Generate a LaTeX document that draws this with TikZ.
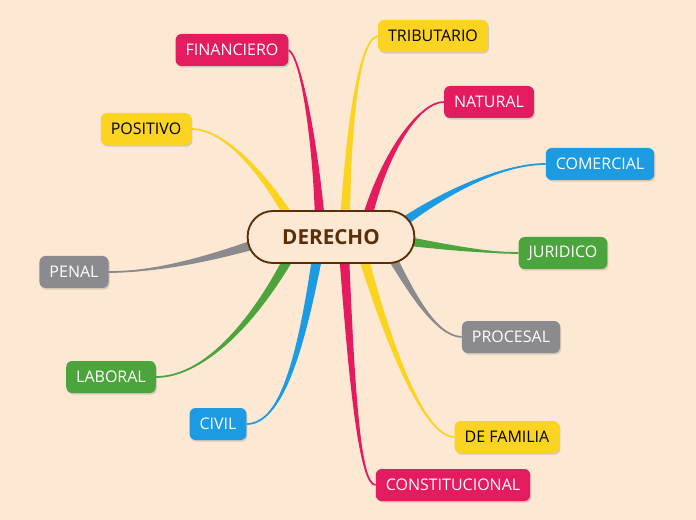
\documentclass[tikz,border=0pt]{standalone}
\usepackage{fontspec}
\setmainfont{Open Sans}
\usepackage{tikz}
\usetikzlibrary{calc,shadows,positioning}

\definecolor{bgcol}{RGB}{253,232,211}
\definecolor{pinkcol}{RGB}{228,27,94}
\definecolor{yellowcol}{RGB}{250,212,32}
\definecolor{bluecol}{RGB}{28,155,226}
\definecolor{greencol}{RGB}{76,164,60}
\definecolor{graycol}{RGB}{139,139,143}
\definecolor{browncol}{RGB}{92,46,8}

\pgfdeclarelayer{bg}
\pgfsetlayers{bg,main}

% tapered branch: colour, start, control 1, control 2, end, half width
\newcommand{\branch}[6]{%
	\fill[#1] ($(#2)+(#6)$) .. controls ($(#3)+0.5*(#6)$) and ($(#4)+0.2*(#6)$) .. (#5) .. controls ($(#4)-0.2*(#6)$) and ($(#3)-0.5*(#6)$) .. ($(#2)-(#6)$) -- cycle;
	\draw[#1, line width = 1.3] (#2) .. controls (#3) and (#4) .. (#5);
}

\begin{document}
\begin{tikzpicture}[x = 0.75pt, y = -0.75pt]
	\tikzstyle{topic} = [rectangle, rounded corners = 4.5pt, minimum height = 24pt, inner xsep = 7.5pt, font = \fontsize{12}{14}\selectfont, text = white, drop shadow = {shadow xshift = 0.8pt, shadow yshift = -1.2pt, opacity = 0.3}]
	\tikzstyle{main} = [rectangle, rounded corners = 19pt, minimum width = 125pt, minimum height = 39pt, draw = browncol, line width = 1.4pt, fill = bgcol, text = browncol, font = \fontsize{15.5}{17}\selectfont\bfseries]
	\useasboundingbox (0, 0) rectangle (696, 520);

\node[main] (der) at (331, 237) {DERECHO};

\node[topic, fill = pinkcol] (fin) at (232, 50) {FINANCIERO};
\node[topic, fill = yellowcol, text = black] (trib) at (433, 36) {TRIBUTARIO};
\node[topic, fill = pinkcol] (nat) at (489, 102) {NATURAL};
\node[topic, fill = yellowcol, text = black] (pos) at (146, 129) {POSITIVO};
\node[topic, fill = bluecol] (com) at (600, 164) {COMERCIAL};
\node[topic, fill = greencol] (jur) at (563, 253) {JURIDICO};
\node[topic, fill = graycol] (pen) at (74, 272) {PENAL};
\node[topic, fill = graycol] (proc) at (511, 337) {PROCESAL};
\node[topic, fill = greencol] (lab) at (111, 377) {LABORAL};
\node[topic, fill = bluecol] (civ) at (218, 424) {CIVIL};
\node[topic, fill = yellowcol, text = black] (fam) at (507, 437) {DE FAMILIA};
\node[topic, fill = pinkcol] (con) at (453, 485) {CONSTITUCIONAL};

	\coordinate (s1) at ($(der)+(-39,-15)$);
	\coordinate (s2) at ($(der)+(-11,-15)$);
	\coordinate (s3) at ($(der)+(14,-15)$);
	\coordinate (s4) at ($(der)+(35,-15)$);
	\coordinate (s5) at ($(der)+(64,-9)$);
	\coordinate (s6) at ($(der)+(69,3)$);
	\coordinate (s7) at ($(der)+(57,13)$);
	\coordinate (s8) at ($(der)+(31,15)$);
	\coordinate (s9) at ($(der)+(13,15)$);
	\coordinate (s10) at ($(der)+(-13,15)$);
	\coordinate (s11) at ($(der)+(-39,15)$);
	\coordinate (s12) at ($(der)+(-69,5)$);

	\begin{pgfonlayer}{bg}
	\fill[bgcol] (0, 0) rectangle (696, 520);
	\branch{yellowcol}{s1}{265,175}{225,129}{pos.east}{4,-2.5}
	\branch{pinkcol}{s2}{316,150}{302,58}{fin.east}{5,0}
	\branch{yellowcol}{s3}{348,140}{357,40}{trib.west}{5,0}
	\branch{pinkcol}{s4}{385,150}{420,102}{nat.west}{4.8,1.4}
	\branch{bluecol}{s5}{440,195}{500,164}{com.west}{3,4}
	\branch{greencol}{s6}{450,248}{490,253}{jur.west}{0,5}
	\branch{graycol}{s7}{410,290}{435,336}{proc.west}{4.5,-2.2}
	\branch{yellowcol}{s8}{390,350}{425,437}{fam.west}{4.8,-1.4}
	\branch{pinkcol}{s9}{352,390}{360,485}{con.west}{5,0}
	\branch{bluecol}{s10}{300,360}{280,424}{civ.east}{5,1}
	\branch{greencol}{s11}{250,330}{200,377}{lab.east}{4.5,2.2}
	\branch{graycol}{s12}{200,262}{150,272}{pen.east}{1,5}
	\end{pgfonlayer}
\end{tikzpicture}
\end{document}
